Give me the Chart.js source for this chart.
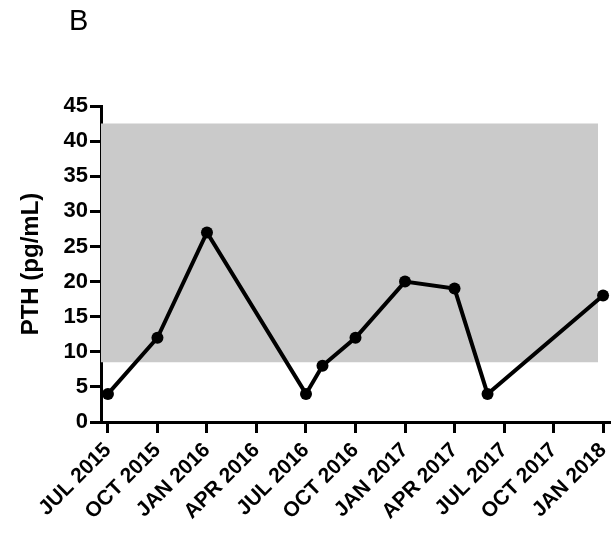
<!DOCTYPE html>
<html>
<head>
<meta charset="utf-8">
<script src="https://cdn.jsdelivr.net/npm/chart.js@4"></script>
<style>
  body { margin: 0; background: #fff; }
  #wrap { position: relative; width: 616px; height: 533px; }
  #panel { position: absolute; left: 69px; top: 4px; font: 29px 'Liberation Sans', Arial, sans-serif; color: #000; }
</style>
</head>
<body>
<div id="wrap">
  <canvas id="myChart" width="616" height="533"></canvas>
  <div id="panel">B</div>
</div>
<script>
// months counted from JUL 2015
const months = [0, 3, 6, 12, 13, 15, 18, 21, 23, 30]
const pth = [4, 12, 27, 4, 8, 12, 20, 19, 4, 18]

const tickMonths = [0, 3, 6, 9, 12, 15, 18, 21, 24, 27, 30]
const tickLabels = ['JUL 2015', 'OCT 2015', 'JAN 2016', 'APR 2016', 'JUL 2016', 'OCT 2016',
  'JAN 2017', 'APR 2017', 'JUL 2017', 'OCT 2017', 'JAN 2018']

// shaded normal range
const rangeLow = 8.5
const rangeHigh = 42.5
const rangeMonths = [-0.42, 29.7]

const fontFam = "'Liberation Sans', Arial, sans-serif"

const data = {
  datasets: [{
    label: 'PTH',
    data: months.map((m, i) => ({ x: m, y: pth[i] })),
    borderColor: '#000',
    backgroundColor: '#000',
    borderWidth: 4,
    pointRadius: 6,
    pointBorderWidth: 0,
    tension: 0,
    fill: false
  }, {
    label: 'range',
    data: rangeMonths.map(m => ({ x: m, y: rangeHigh })),
    borderWidth: 0,
    pointRadius: 0,
    backgroundColor: '#cacaca',
    fill: { value: rangeLow }
  }]
}

const config = {
  type: 'line',
  data: data,
  options: {
    responsive: false,
    animation: false,
    layout: { padding: { top: 106, right: 1, left: 0, bottom: 0 } },
    plugins: { legend: { display: false }, tooltip: { enabled: false } },
    scales: {
      x: {
        type: 'linear',
        min: -0.42,
        max: 30.42,
        afterBuildTicks: scale => { scale.ticks = tickMonths.map(v => ({ value: v })) },
        afterFit: scale => { scale.height = 111; scale.paddingLeft = 0; scale.paddingRight = 0 },
        border: { display: true, color: '#000', width: 3 },
        grid: { drawOnChartArea: false, drawTicks: true, tickLength: 11, tickWidth: 3, tickColor: '#000', color: '#000' },
        ticks: {
          autoSkip: false,
          maxRotation: 45,
          minRotation: 45,
          padding: 5,
          color: '#000',
          font: { family: fontFam, size: 21, weight: 'bold' },
          callback: v => tickLabels[tickMonths.indexOf(v)]
        }
      },
      y: {
        min: 0,
        max: 45,
        afterFit: scale => { scale.width = 101; scale.paddingTop = 0; scale.paddingBottom = 0 },
        border: { display: true, color: '#000', width: 3 },
        grid: { drawOnChartArea: false, drawTicks: true, tickLength: 11, tickWidth: 3, tickColor: '#000', color: '#000' },
        ticks: {
          stepSize: 5,
          padding: 2,
          color: '#000',
          font: { family: fontFam, size: 22, weight: 'bold' }
        },
        title: {
          display: true,
          text: 'PTH (pg/mL)',
          color: '#000',
          font: { family: fontFam, size: 24, weight: 'bold' },
          padding: { top: 17, bottom: 0 }
        }
      }
    }
  }
}

const myChart = new Chart(document.getElementById('myChart'), config)
</script>
</body>
</html>
